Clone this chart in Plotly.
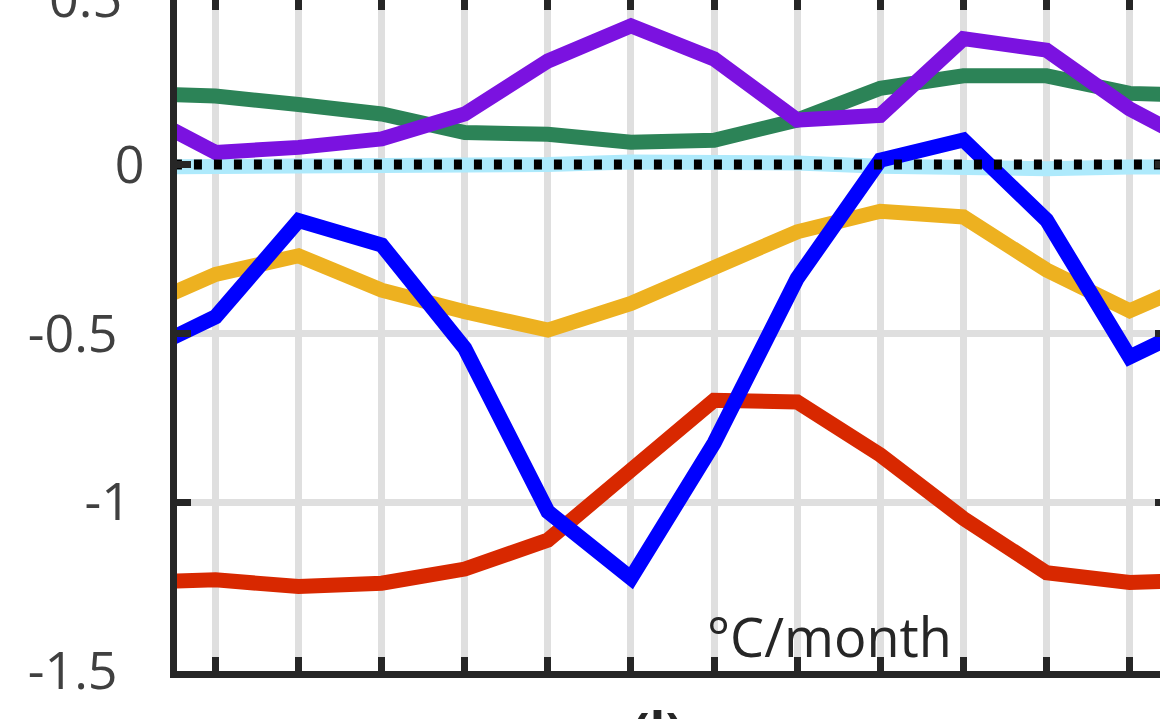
import plotly.graph_objects as go

# monthly anomaly series (Jan..Dec), °C/month
months = list(range(1, 13))
green = [0.203, 0.178, 0.15, 0.095, 0.09, 0.066, 0.072, 0.132, 0.226, 0.263, 0.263, 0.211]
cyan = [-0.007, -0.009, -0.011, -0.008, 0.0, 0.008, 0.012, 0.005, -0.005, -0.012, -0.012, -0.007]
orange = [-0.325, -0.27, -0.372, -0.436, -0.49, -0.411, -0.303, -0.199, -0.138, -0.155, -0.312, -0.433]
red = [-1.23, -1.25, -1.24, -1.198, -1.112, -0.905, -0.698, -0.703, -0.86, -1.048, -1.209, -1.238]
blue = [-0.451, -0.166, -0.238, -0.544, -1.028, -1.225, -0.825, -0.337, 0.013, 0.073, -0.164, -0.57]
purple = [0.036, 0.051, 0.076, 0.15, 0.307, 0.411, 0.313, 0.132, 0.146, 0.373, 0.339, 0.165]

y_ticks = [-1.5, -1, -0.5, 0]
y_ticktext = ["-1.5\u00a0\u00a0", "-1\u00a0", "-0.5\u00a0\u00a0", "0"]

AXIS = "#262626"
GRID = "#dfdfdf"
FONT = "Open Sans"

# wrap the annual cycle so the lines run off both edges
xs = [0] + months + [13]


def wrap(v):
    return [v[-1]] + v + [v[0]]


fig = go.Figure()
series = [
    (green, "#2c8357"),
    (cyan, "#aeeafc"),
    (orange, "#edb120"),
    (red, "#d82800"),
    (blue, "#0000ff"),
    (purple, "#7b12e0"),
]
for vals, col in series:
    fig.add_trace(go.Scatter(x=xs, y=wrap(vals), mode="lines",
                             line=dict(color=col, width=15), showlegend=False,
                             hoverinfo="skip"))

# dotted zero reference, drawn on the overlay axes so it sits on top
fig.add_trace(go.Scatter(x=[0.5, 13], y=[0, 0], mode="lines", xaxis="x2", yaxis="y2",
                         line=dict(color="black", width=10, dash="8px,12px"),
                         showlegend=False, hoverinfo="skip"))

x_range = [0.537, 12.366]
y_range = [-1.5, 0.4876]

fig.update_layout(
    width=1160, height=719, autosize=False,
    margin=dict(l=177, r=0, t=0, b=48, pad=0),
    plot_bgcolor="white", paper_bgcolor="white",
    font=dict(family=FONT, color="#404040", size=52),
    xaxis=dict(range=x_range, tickvals=months, showticklabels=False,
               showgrid=True, gridcolor=GRID, gridwidth=7, zeroline=False,
               showline=True, linecolor=AXIS, linewidth=7,
               ticks="inside", ticklen=14, tickwidth=7, tickcolor=AXIS),
    yaxis=dict(range=y_range, tickvals=y_ticks, ticktext=y_ticktext,
               showgrid=True, gridcolor=GRID, gridwidth=7, zeroline=False,
               showline=True, linecolor=AXIS, linewidth=7,
               ticks="inside", ticklen=14, tickwidth=7, tickcolor=AXIS,
               ticklabelstandoff=15,
               tickfont=dict(family=FONT, size=52, color="#404040")),
    xaxis2=dict(range=x_range, overlaying="x", side="top", anchor="y2",
                tickvals=months, showticklabels=False, showgrid=False,
                zeroline=False, showline=False,
                ticks="inside", ticklen=10, tickwidth=7, tickcolor=AXIS),
    yaxis2=dict(range=y_range, overlaying="y", side="right", anchor="x2",
                tickvals=y_ticks, showticklabels=False, showgrid=False,
                zeroline=False, showline=False,
                ticks="inside", ticklen=5, tickwidth=7, tickcolor=AXIS),
)

fig.add_annotation(text="\u00b0C/month", xref="paper", yref="paper",
                   x=0.664, y=0.052, xanchor="center", yanchor="middle",
                   showarrow=False, font=dict(family=FONT, size=54, color="#262626"))
fig.add_annotation(text="0.5", xref="paper", yref="paper",
                   x=-0.054, y=1.005, xanchor="right", yanchor="middle",
                   showarrow=False, font=dict(family=FONT, size=52, color="#404040"))
fig.add_annotation(text="<b>(l)</b>", xref="paper", yref="paper",
                   x=0.489, y=-0.031, xanchor="center", yanchor="top",
                   showarrow=False, font=dict(family=FONT, size=52, color="#262626"))

# drop the default page margin so the figure sits at the window's corner
fig.write_html("out.html", config={"displayModeBar": False},
               post_script="document.body.style.margin='0px';")
